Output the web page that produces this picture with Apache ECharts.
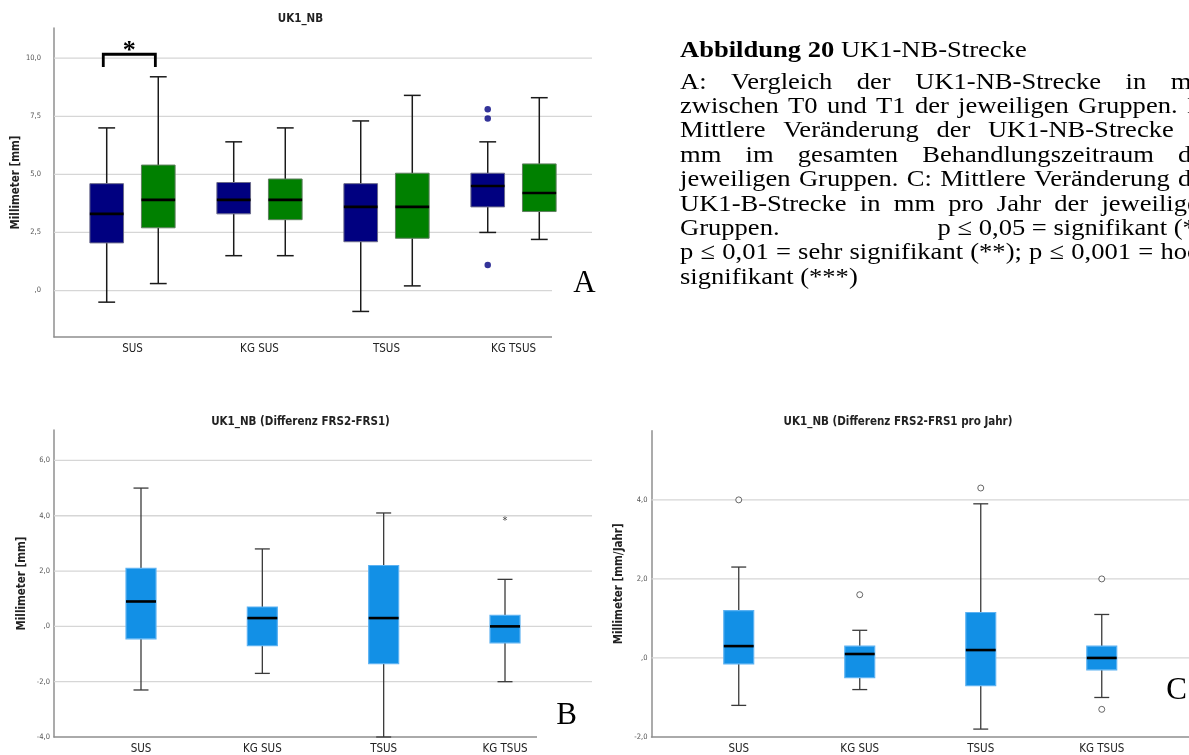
<!DOCTYPE html>
<html>
<head>
<meta charset="utf-8">
<script src="https://cdn.jsdelivr.net/npm/echarts@6/dist/echarts.min.js"></script>
<style>
  html, body { margin: 0; padding: 0; background: #ffffff; }
  #chart { width: 1189px; height: 755px; }
</style>
</head>
<body>
<div id="chart"></div>
<script>
// ---------- data ----------
const categories = ['SUS', 'KG SUS', 'TSUS', 'KG TSUS'];

// A: UK1_NB distance at T0 (blue) and T1 (green), [min, Q1, median, Q3, max]
const uk1nbT0 = [[-0.5, 2.05, 3.3, 4.6, 7.0], [1.5, 3.3, 3.9, 4.65, 6.4], [-0.9, 2.1, 3.6, 4.6, 7.3], [2.5, 3.6, 4.5, 5.05, 6.4]];
const uk1nbT1 = [[0.3, 2.7, 3.9, 5.4, 9.2], [1.5, 3.05, 3.9, 4.8, 7.0], [0.2, 2.25, 3.6, 5.05, 8.4], [2.2, 3.4, 4.2, 5.45, 8.3]];
const uk1nbT0Outliers = [[4, 7.8], [4, 7.4], [4, 1.1]];   // [group number, value]
const ticksA = [0, 2.5, 5, 7.5, 10];

// B: difference FRS2-FRS1 in mm
const diffTotal = [[-2.3, -0.45, 0.9, 2.1, 5.0], [-1.7, -0.7, 0.3, 0.7, 2.8], [-4.0, -1.35, 0.3, 2.2, 4.1], [-2.0, -0.6, 0.0, 0.4, 1.7]];
const diffTotalExtremes = [[4, 3.9]];
const ticksB = [-4, -2, 0, 2, 4, 6];

// C: difference FRS2-FRS1 per year in mm/Jahr
const diffPerYear = [[-1.2, -0.15, 0.3, 1.2, 2.3], [-0.8, -0.5, 0.1, 0.3, 0.7], [-1.8, -0.7, 0.2, 1.15, 3.9], [-1.0, -0.3, 0.0, 0.3, 1.1]];
const diffPerYearOutliers = [[1, 4.0], [2, 1.6], [3, 4.3], [4, 2.0], [4, -1.3]];
const ticksC = [-2, 0, 2, 4];

// caption text
const captionHead = ['Abbildung 20', 'UK1-NB-Strecke'];
const captionLines = [
  { text: 'A: Vergleich der UK1-NB-Strecke in mm', justify: true },
  { text: 'zwischen T0 und T1 der jeweiligen Gruppen. B:', justify: true },
  { text: 'Mittlere Veränderung der UK1-NB-Strecke in', justify: true },
  { text: 'mm im gesamten Behandlungszeitraum der', justify: true },
  { text: 'jeweiligen Gruppen. C: Mittlere Veränderung der', justify: true },
  { text: 'UK1-B-Strecke in mm pro Jahr der jeweiligen', justify: true },
  { text: 'Gruppen.', tail: 'p ≤ 0,05 = signifikant (*);' },
  { text: 'p ≤ 0,01 = sehr signifikant (**); p ≤ 0,001 = hoch', justify: true },
  { text: 'signifikant (***)', justify: false }
];

// ---------- styling ----------
const SANS = "'Liberation Sans Narrow', 'DejaVu Sans Condensed', 'Roboto Condensed', 'Liberation Sans', sans-serif";
const SERIF = "'Liberation Serif', 'DejaVu Serif', serif";
const AXIS_COLOR = '#8f8f8f';
const GRID_COLOR = '#d6d6d6';

function fmtDe(v) {
  if (Math.abs(v) < 1e-9) return ',0';
  return v.toFixed(1).replace('.', ',');
}

function catAxis(gridIndex, min, max) {
  return {
    type: 'value', gridIndex, min, max,
    axisLine: { show: true, onZero: false, lineStyle: { color: AXIS_COLOR, width: 1.5 } },
    axisTick: { show: false },
    splitLine: { show: false },
    axisLabel: {
      customValues: [1, 2, 3, 4],
      formatter: v => categories[Math.round(v) - 1] || '',
      color: '#222', fontSize: 11.5, fontFamily: SANS, margin: 6
    }
  };
}

function valAxis(gridIndex, min, max, ticks, name, nameGap, labelMargin) {
  return {
    type: 'value', gridIndex, min, max,
    name, nameLocation: 'middle', nameRotate: 90, nameGap,
    nameTextStyle: { color: '#222', fontSize: 11.5, fontWeight: 'bold', fontFamily: SANS },
    axisLine: { show: true, onZero: false, lineStyle: { color: AXIS_COLOR, width: 1.5 } },
    axisTick: { show: false },
    splitLine: { show: false },
    axisLabel: { customValues: ticks, formatter: fmtDe, color: '#555', fontSize: 7.5, fontFamily: SANS, margin: labelMargin }
  };
}

// horizontal reference lines across the plot area at the given values
function gridLineSeries(axisIndex, ticks) {
  return {
    type: 'custom', xAxisIndex: axisIndex, yAxisIndex: axisIndex, z: 1, silent: true,
    data: ticks.map(t => [1, t]),
    renderItem: (params, api) => {
      const cs = params.coordSys;
      const y = api.coord([1, api.value(1)])[1];
      return { type: 'line', shape: { x1: cs.x, y1: y, x2: cs.x + cs.width, y2: y },
               style: { stroke: GRID_COLOR, lineWidth: 1.3 } };
    }
  };
}

// box-and-whisker glyph drawn from [x, min, Q1, median, Q3, max]
function boxSeries(axisIndex, stats, offset, st) {
  return {
    type: 'custom', xAxisIndex: axisIndex, yAxisIndex: axisIndex, z: 3, silent: true,
    data: stats.map((s, i) => [i + 1 + offset].concat(s)),
    encode: { x: 0, y: [1, 2, 3, 4, 5] },
    renderItem: (params, api) => {
      const x = api.value(0);
      const pMin = api.coord([x, api.value(1)]);
      const pQ1 = api.coord([x, api.value(2)]);
      const pMed = api.coord([x, api.value(3)]);
      const pQ3 = api.coord([x, api.value(4)]);
      const pMax = api.coord([x, api.value(5)]);
      const w = api.size([st.width, 0])[0];
      const cx = pMed[0], half = w / 2, cap = w / 4;
      const ws = { stroke: st.whisker, lineWidth: st.whiskerWidth };
      return {
        type: 'group',
        children: [
          { type: 'line', shape: { x1: cx, y1: pMax[1], x2: cx, y2: pQ3[1] }, style: ws },
          { type: 'line', shape: { x1: cx, y1: pQ1[1], x2: cx, y2: pMin[1] }, style: ws },
          { type: 'line', shape: { x1: cx - cap, y1: pMax[1], x2: cx + cap, y2: pMax[1] }, style: ws },
          { type: 'line', shape: { x1: cx - cap, y1: pMin[1], x2: cx + cap, y2: pMin[1] }, style: ws },
          { type: 'rect', shape: { x: cx - half, y: pQ3[1], width: w, height: pQ1[1] - pQ3[1] },
            style: { fill: st.fill, stroke: st.border, lineWidth: st.borderWidth } },
          { type: 'line', shape: { x1: cx - half, y1: pMed[1], x2: cx + half, y2: pMed[1] },
            style: { stroke: '#000', lineWidth: 2.6 } }
        ]
      };
    }
  };
}

const styleNavy = { width: 0.265, fill: '#000080', border: '#6b6b8a', borderWidth: 1, whisker: '#1a1a1a', whiskerWidth: 1.5 };
const styleGreen = { width: 0.265, fill: '#008000', border: '#5f7f5f', borderWidth: 1, whisker: '#1a1a1a', whiskerWidth: 1.5 };
const styleBlue = { width: 0.247, fill: '#1290e6', border: '#5cb2f2', borderWidth: 1.2, whisker: '#3a3a3a', whiskerWidth: 1.3 };
const PAIR_OFFSET = 0.203;

// significance bracket between SUS T0 and T1 in panel A
const sigBracket = { from: 0.77, to: 1.18, top: 10.17, foot: 9.62, mark: '*' };

// ---------- caption layout (justified block) ----------
const CAP_SIZE = 23.5;
const CAP_STRETCH = 1.13;
const CAP_LEFT = 680, CAP_RIGHT = 1212;
const CAP_HEAD_Y = 51, CAP_BODY_Y = 82.5, CAP_PITCH = 24.4;
const capFont = (bold) => (bold ? 'bold ' : '') + CAP_SIZE + 'px ' + SERIF;
const measure = document.createElement('canvas').getContext('2d');
function tw(s, font) { measure.font = font; return measure.measureText(s).width * CAP_STRETCH; }

function captionGraphics() {
  const out = [];
  const txt = (text, x, y, bold, align) => ({
    type: 'text', silent: true, z: 100, x, y, scaleX: CAP_STRETCH,
    style: { text, x: 0, y: 0, font: capFont(bold), fill: '#000', align: align || 'left', verticalAlign: 'middle',
             textAlign: align || 'left', textVerticalAlign: 'middle' }
  });
  out.push(txt(captionHead[0], CAP_LEFT, CAP_HEAD_Y, true));
  out.push(txt(captionHead[1], CAP_LEFT + tw(captionHead[0] + ' ', capFont(true)), CAP_HEAD_Y, false));
  captionLines.forEach((ln, i) => {
    const y = CAP_BODY_Y + CAP_PITCH * i;
    if (ln.tail) {
      out.push(txt(ln.text, CAP_LEFT, y, false));
      out.push(txt(ln.tail, CAP_RIGHT, y, false, 'right'));
      return;
    }
    if (!ln.justify) { out.push(txt(ln.text, CAP_LEFT, y, false)); return; }
    const words = ln.text.split(' ');
    const widths = words.map(w => tw(w, capFont(false)));
    const total = widths.reduce((a, b) => a + b, 0);
    const gap = (CAP_RIGHT - CAP_LEFT - total) / (words.length - 1);
    let x = CAP_LEFT;
    words.forEach((w, k) => { out.push(txt(w, x, y, false)); x += widths[k] + gap; });
  });
  return out;
}

function panelLetter(letter, x, y, cover) {
  const items = [];
  if (cover) items.push({ type: 'rect', silent: true, z: 90, shape: cover, style: { fill: '#ffffff' } });
  items.push({ type: 'text', silent: true, z: 95,
    style: { text: letter, x, y, font: '31px ' + SERIF, fill: '#000', align: 'center', verticalAlign: 'middle',
             textAlign: 'center', textVerticalAlign: 'middle' } });
  return items;
}

function panelTitle(text, x, y) {
  return { type: 'text', silent: true, z: 50,
    style: { text, x, y, font: 'bold 11.5px ' + SANS, fill: '#222', align: 'center', verticalAlign: 'middle',
             textAlign: 'center', textVerticalAlign: 'middle' } };
}

// ---------- chart ----------
const chart = echarts.init(document.getElementById('chart'), null, { renderer: 'canvas' });

const option = {
  animation: false,
  backgroundColor: '#ffffff',
  grid: [
    { left: 54, top: 28, width: 538, height: 309 },
    { left: 54, top: 430, width: 538, height: 309.3 },
    { left: 651.5, top: 430.7, width: 539, height: 308.6 }
  ],
  xAxis: [
    catAxis(0, 0.382, 4.618),
    catAxis(1, 0.283, 4.717),
    catAxis(2, 0.279, 4.721)
  ],
  yAxis: [
    valAxis(0, -2, 11.3, ticksA, 'Millimeter [mm]', 26, 13),
    valAxis(1, -4, 7.1, ticksB, 'Millimeter [mm]', 26, 4),
    valAxis(2, -2, 5.75, ticksC, 'Millimeter [mm/Jahr]', 26, 4)
  ],
  series: [
    gridLineSeries(0, ticksA),
    gridLineSeries(1, ticksB.filter(t => t > -4)),
    gridLineSeries(2, ticksC.filter(t => t > -2)),

    boxSeries(0, uk1nbT0, -PAIR_OFFSET, styleNavy),
    boxSeries(0, uk1nbT1, PAIR_OFFSET, styleGreen),
    {
      type: 'scatter', xAxisIndex: 0, yAxisIndex: 0, z: 4, silent: true,
      symbol: 'circle', symbolSize: 6.5,
      itemStyle: { color: '#000080' },
      data: uk1nbT0Outliers.map(d => [d[0] - PAIR_OFFSET, d[1]])
    },
    {
      type: 'custom', xAxisIndex: 0, yAxisIndex: 0, z: 4, silent: true,
      data: [[sigBracket.from, sigBracket.to, sigBracket.top, sigBracket.foot]],
      renderItem: (params, api) => {
        const a = api.coord([api.value(0), api.value(3)]);
        const b = api.coord([api.value(0), api.value(2)]);
        const c = api.coord([api.value(1), api.value(2)]);
        const d = api.coord([api.value(1), api.value(3)]);
        return { type: 'group', children: [
          { type: 'polyline', shape: { points: [a, b, c, d] },
            style: { stroke: '#000', lineWidth: 2.8, fill: null, lineJoin: 'miter' } },
          { type: 'text', style: { text: sigBracket.mark, x: (b[0] + c[0]) / 2, y: b[1] - 16,
            font: 'bold 26px ' + SERIF, fill: '#000', align: 'center', verticalAlign: 'top',
            textAlign: 'center', textVerticalAlign: 'top' } }
        ] };
      }
    },

    boxSeries(1, diffTotal, 0, styleBlue),
    {
      type: 'custom', xAxisIndex: 1, yAxisIndex: 1, z: 4, silent: true,
      data: diffTotalExtremes,
      renderItem: (params, api) => {
        const p = api.coord([api.value(0), api.value(1)]);
        return { type: 'text', style: { text: '*', x: p[0], y: p[1] + 3, font: '11px ' + SANS, fill: '#444',
          align: 'center', verticalAlign: 'middle', textAlign: 'center', textVerticalAlign: 'middle' } };
      }
    },

    boxSeries(2, diffPerYear, 0, styleBlue),
    {
      type: 'scatter', xAxisIndex: 2, yAxisIndex: 2, z: 4, silent: true,
      symbol: 'circle', symbolSize: 6,
      itemStyle: { color: '#ffffff', borderColor: '#444', borderWidth: 1 },
      data: diffPerYearOutliers
    }
  ],
  graphic: [
    panelTitle('UK1_NB', 300.5, 19),
    panelTitle('UK1_NB (Differenz FRS2-FRS1)', 300.5, 422.5),
    panelTitle('UK1_NB (Differenz FRS2-FRS1 pro Jahr)', 898, 422.5)
  ]
    .concat(panelLetter('A', 584.5, 284, { x: 552, y: 262, width: 60, height: 90 }))
    .concat(panelLetter('B', 566.5, 716, { x: 537, y: 692, width: 60, height: 55 }))
    .concat(panelLetter('C', 1176.5, 691, null))
    .concat(captionGraphics())
};

chart.setOption(option);
</script>
</body>
</html>
